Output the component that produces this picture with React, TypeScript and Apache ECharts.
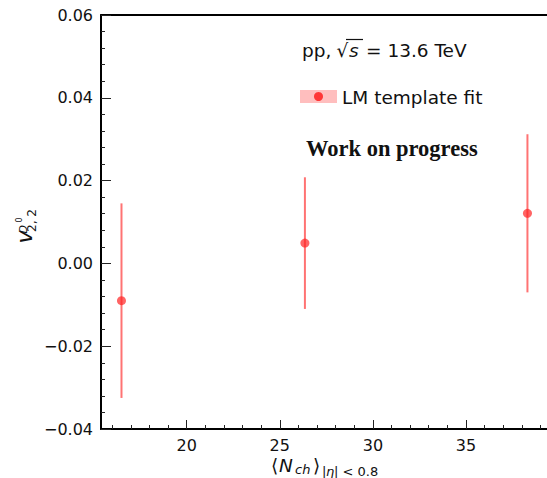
import React, { useEffect, useRef } from "react";
import * as echarts from "echarts";

// Data
const nch: number[] = [16.5, 26.35, 38.3];
const v22: number[] = [-0.009, 0.0049, 0.0121];
const v22Err: number[] = [0.0235, 0.0159, 0.0191];

const xMajorTicks: number[] = [20, 25, 30, 35];
const xMinorTicks: number[] = [16, 17, 18, 19, 21, 22, 23, 24, 26, 27, 28, 29, 31, 32, 33, 34, 36, 37, 38, 39];
const yMin = -0.04;
const yMax = 0.06;
const yStep = 0.02;

const FONT = "DejaVu Sans";

function fmtY(v: number): string {
  if (Math.abs(v) < 1e-9) return "0.00";
  return (v < 0 ? "\u2212" : "") + Math.abs(v).toFixed(2);
}

export default function App() {
  const ref = useRef<HTMLDivElement>(null);

  useEffect(() => {
    document.body.style.margin = "0";
    if (!ref.current) return;
    const chart = echarts.init(ref.current, null, { renderer: "svg" });

    const xMin = 15.4;
    const xMax = 39.35;

    const option: any = {
      animation: false,
      backgroundColor: "#ffffff",
      grid: { left: 101, right: 0, top: 15, bottom: 49, containLabel: false },
      xAxis: [
        {
          type: "value",
          min: xMin,
          max: xMax,
          position: "bottom",
          axisLine: { show: true, onZero: false, lineStyle: { color: "#000", width: 2 } },
          axisTick: { show: true, inside: true, length: 9, customValues: xMajorTicks, lineStyle: { color: "#222", width: 1 } },
          axisLabel: {
            show: true,
            customValues: xMajorTicks,
            margin: 8,
            fontFamily: FONT,
            fontSize: 16,
            color: "#111",
            formatter: (v: number) => String(Math.round(v)),
          },
          splitLine: { show: false },
        },
        {
          type: "value",
          min: xMin,
          max: xMax,
          position: "bottom",
          axisLine: { show: false, onZero: false },
          axisTick: { show: true, inside: true, length: 4, customValues: xMinorTicks, lineStyle: { color: "#222", width: 1 } },
          axisLabel: { show: false },
          splitLine: { show: false },
        },
        {
          type: "value",
          min: xMin,
          max: xMax,
          position: "top",
          axisLine: { show: true, onZero: false, lineStyle: { color: "#000", width: 2 } },
          axisTick: { show: false },
          axisLabel: { show: false },
          splitLine: { show: false },
        },
      ],
      yAxis: {
        type: "value",
        min: yMin,
        max: yMax,
        interval: yStep,
        axisLine: { show: true, onZero: false, lineStyle: { color: "#000", width: 2 } },
        axisTick: { show: true, inside: true, length: 10, lineStyle: { color: "#222", width: 1 } },
        minorTick: { show: true, splitNumber: 5, length: 4, lineStyle: { color: "#222", width: 1 } },
        axisLabel: { margin: 8, fontFamily: FONT, fontSize: 16, color: "#111", formatter: fmtY },
        splitLine: { show: false },
      },
      series: [
        {
          type: "custom",
          xAxisIndex: 0,
          yAxisIndex: 0,
          data: nch.map((x, i) => [x, v22[i], v22Err[i]]),
          encode: { x: 0, y: 1 },
          renderItem: (params: any, api: any) => {
            const x = api.value(0);
            const y = api.value(1);
            const e = api.value(2);
            const top = api.coord([x, y + e]);
            const bot = api.coord([x, y - e]);
            return {
              type: "line",
              shape: { x1: top[0], y1: top[1], x2: bot[0], y2: bot[1] },
              style: { stroke: "rgba(255,40,40,0.65)", lineWidth: 2 },
            };
          },
          z: 2,
        },
        {
          type: "scatter",
          xAxisIndex: 0,
          yAxisIndex: 0,
          data: nch.map((x, i) => [x, v22[i]]),
          symbol: "circle",
          symbolSize: 9,
          itemStyle: { color: "rgba(255,35,35,0.88)" },
          z: 3,
        },
      ],
      graphic: [
        // pp, sqrt(s) = 13.6 TeV
        { type: "text", x: 302, y: 50, style: { text: "pp,", fontFamily: FONT, fontSize: 18.5, fill: "#111", align: "left", verticalAlign: "middle" } },
        { type: "text", x: 336.5, y: 50, style: { text: "\u221A", fontFamily: FONT, fontSize: 18.5, fill: "#111", align: "left", verticalAlign: "middle" } },
        { type: "line", shape: { x1: 346, y1: 39.5, x2: 363, y2: 39.5 }, style: { stroke: "#111", lineWidth: 1.2 } },
        { type: "text", x: 349, y: 50, style: { text: "s", fontFamily: FONT, fontStyle: "italic", fontSize: 18.5, fill: "#111", align: "left", verticalAlign: "middle" } },
        { type: "text", x: 366, y: 50, style: { text: "= 13.6 TeV", fontFamily: FONT, fontSize: 18.5, fill: "#111", align: "left", verticalAlign: "middle" } },
        // legend
        { type: "rect", shape: { x: 300, y: 90, width: 37, height: 13 }, style: { fill: "rgba(255,40,40,0.3)" } },
        { type: "circle", shape: { cx: 318.5, cy: 96.5, r: 4.5 }, style: { fill: "rgba(255,35,35,0.88)" } },
        { type: "text", x: 342, y: 97, style: { text: "LM template fit", fontFamily: FONT, fontSize: 18.5, fill: "#111", align: "left", verticalAlign: "middle" } },
        // work on progress
        { type: "text", x: 306, y: 148, style: { text: "Work on progress", fontFamily: "Liberation Serif", fontWeight: "bold", fontSize: 22.5, fill: "#111", align: "left", verticalAlign: "middle" } },
        // x axis title
        { type: "text", x: 271, y: 465, style: { text: "\u27E8", fontFamily: FONT, fontSize: 18.5, fill: "#111", align: "left", verticalAlign: "middle" } },
        { type: "text", x: 279, y: 465, style: { text: "N", fontFamily: FONT, fontStyle: "italic", fontSize: 18.5, fill: "#111", align: "left", verticalAlign: "middle" } },
        { type: "text", x: 295, y: 469, style: { text: "ch", fontFamily: FONT, fontStyle: "italic", fontSize: 13, fill: "#111", align: "left", verticalAlign: "middle" } },
        { type: "text", x: 313, y: 465, style: { text: "\u27E9", fontFamily: FONT, fontSize: 18.5, fill: "#111", align: "left", verticalAlign: "middle" } },
        { type: "text", x: 322, y: 471, style: { text: "|", fontFamily: FONT, fontSize: 13, fill: "#111", align: "left", verticalAlign: "middle" } },
        { type: "text", x: 326, y: 471, style: { text: "\u03B7", fontFamily: FONT, fontStyle: "italic", fontSize: 13, fill: "#111", align: "left", verticalAlign: "middle" } },
        { type: "text", x: 334, y: 471, style: { text: "| < 0.8", fontFamily: FONT, fontSize: 13, fill: "#111", align: "left", verticalAlign: "middle" } },
        // y axis title (rotated)
        { type: "text", x: 24, y: 243.5, rotation: Math.PI / 2, style: { text: "v", fontFamily: FONT, fontStyle: "italic", fontSize: 22, fill: "#111", align: "left", verticalAlign: "middle" } },
        { type: "text", x: 32, y: 232, rotation: Math.PI / 2, style: { text: "2, 2", fontFamily: FONT, fontSize: 12, fill: "#111", align: "left", verticalAlign: "middle" } },
        { type: "text", x: 23.5, y: 233.5, rotation: Math.PI / 2, style: { text: "D", fontFamily: FONT, fontStyle: "italic", fontSize: 11, fill: "#111", align: "left", verticalAlign: "middle" } },
        { type: "text", x: 19.5, y: 222.5, rotation: Math.PI / 2, style: { text: "0", fontFamily: FONT, fontSize: 8, fill: "#111", align: "left", verticalAlign: "middle" } },
      ],
    };

    chart.setOption(option);
    return () => chart.dispose();
  }, []);

  return <div ref={ref} style={{ width: 547, height: 478 }} />;
}
